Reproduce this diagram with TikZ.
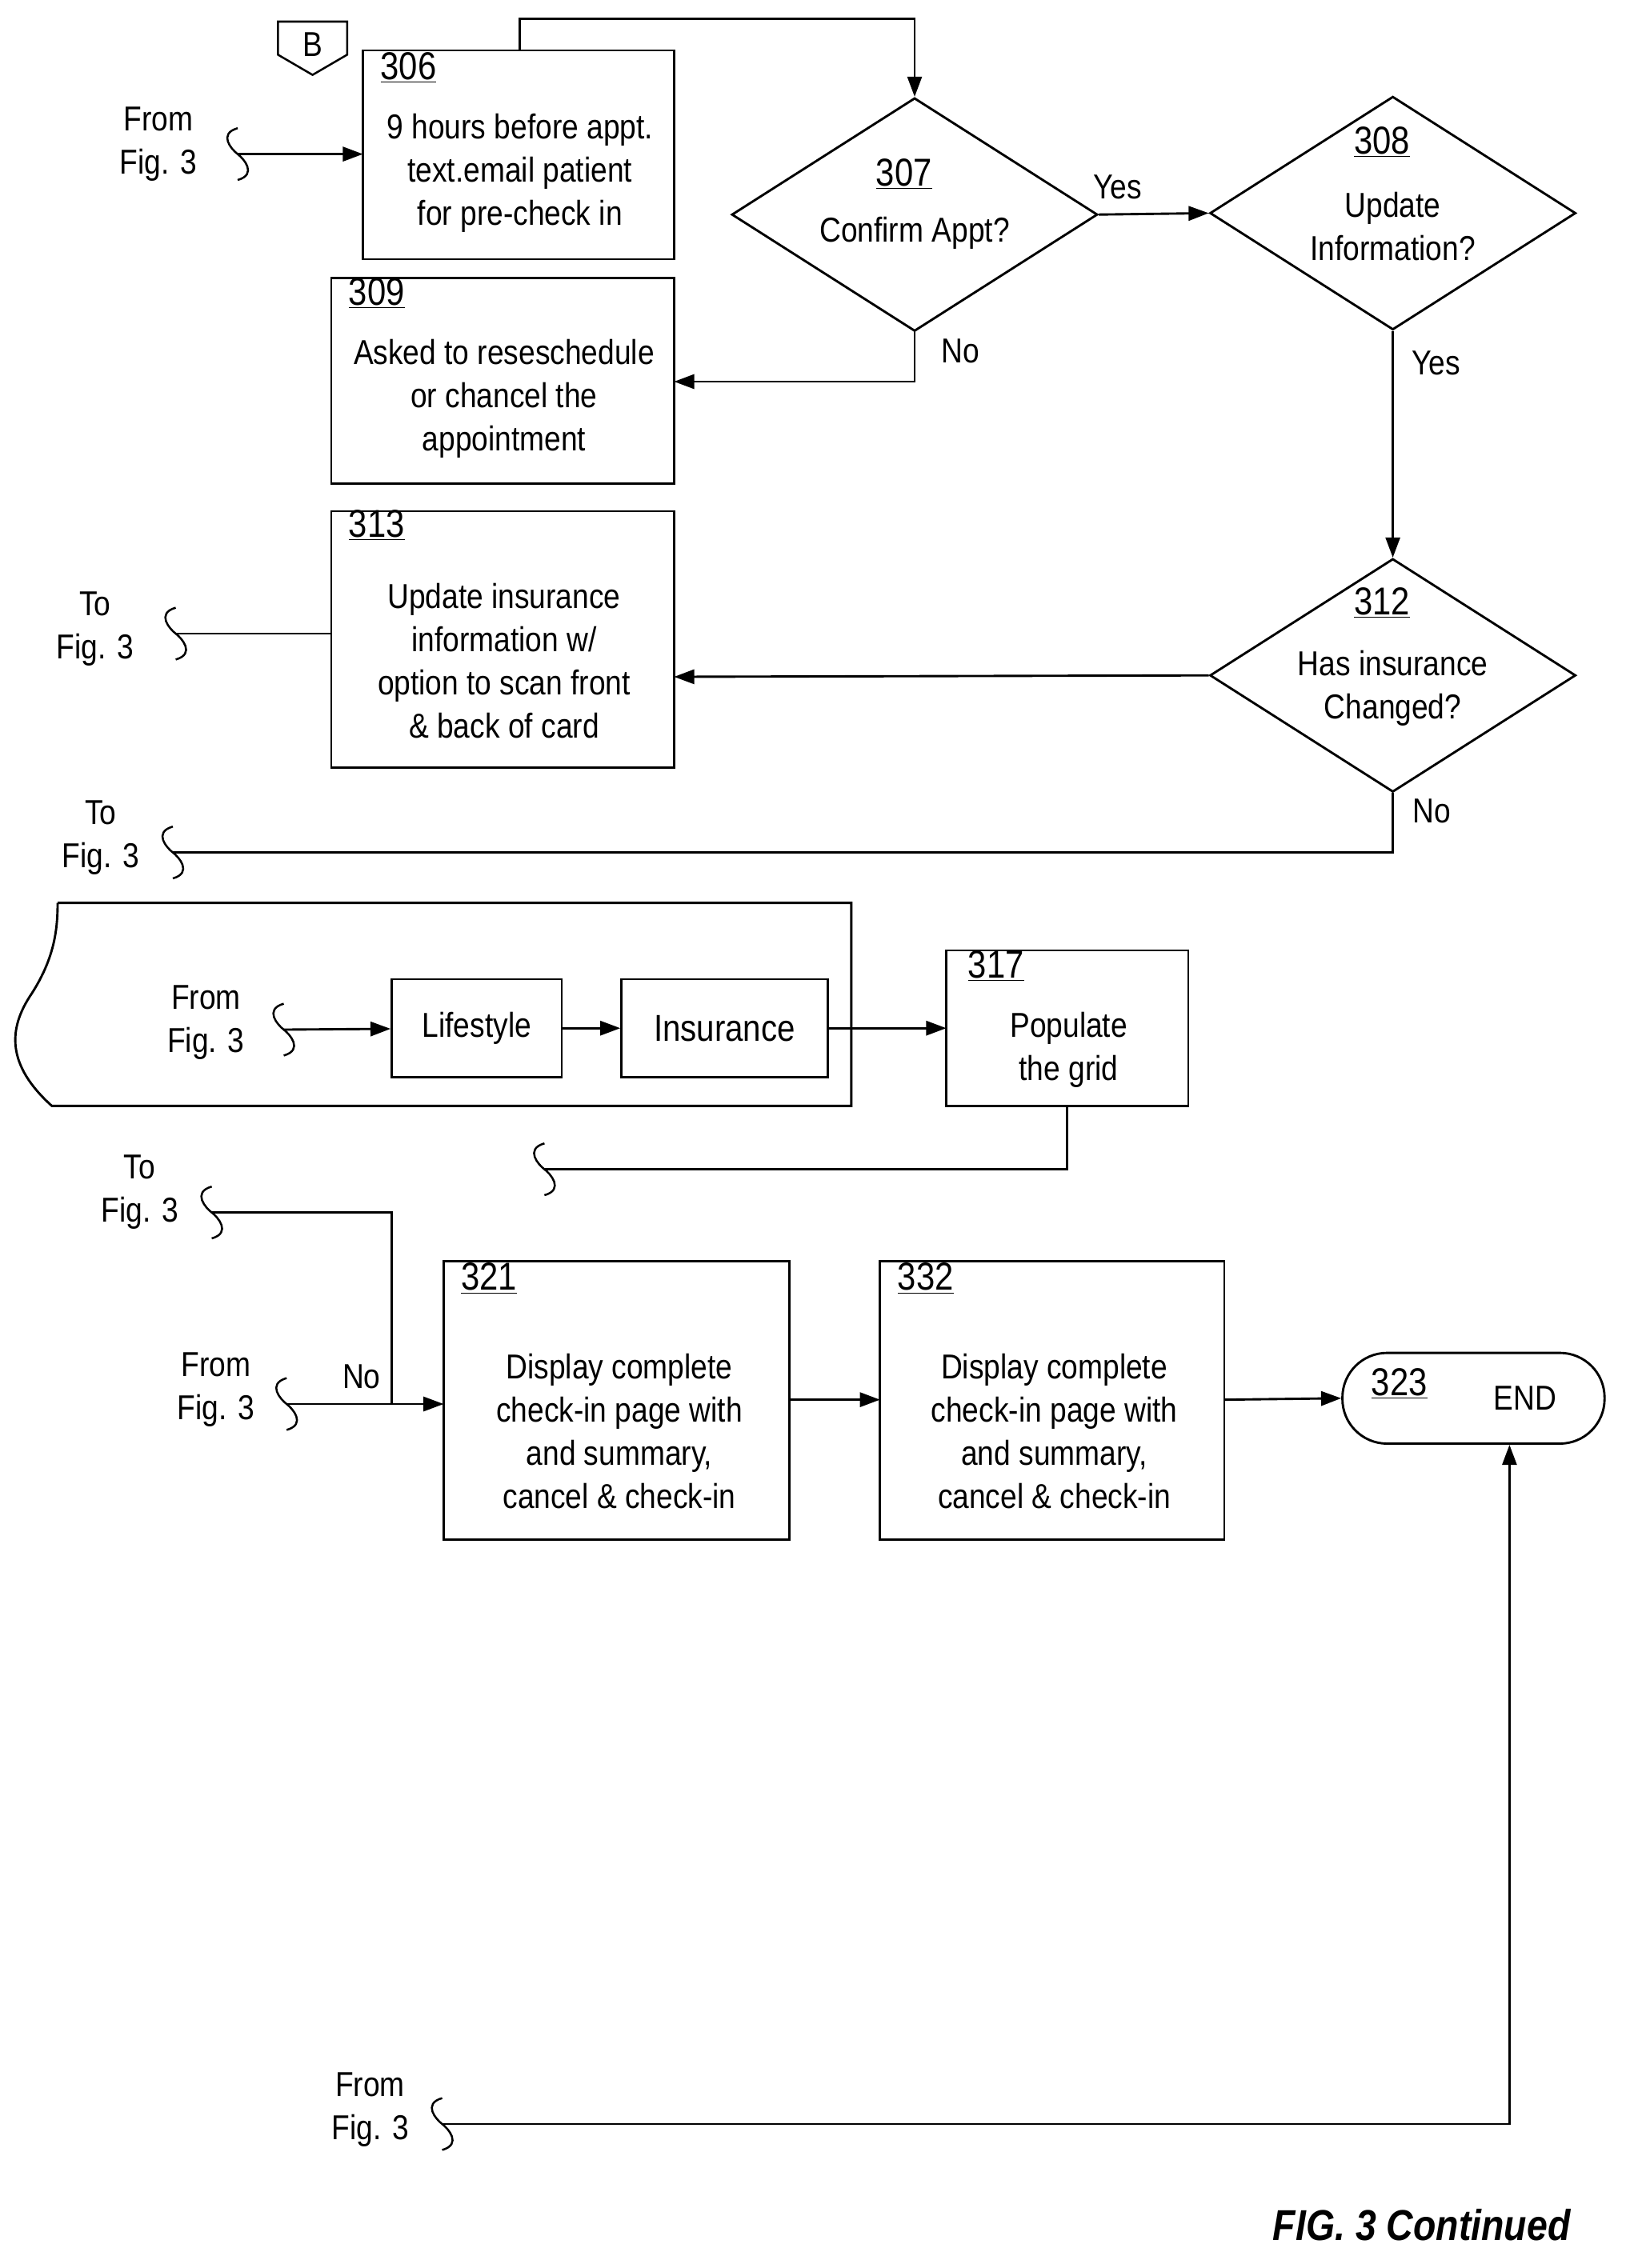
\documentclass[tikz,border=0pt]{standalone}
\usepackage{fontspec}
\setmainfont{Liberation Sans}[FakeStretch=0.86]
\usetikzlibrary{shapes.geometric,arrows.meta}
\begin{document}
\begin{tikzpicture}[x=1pt,y=-1pt,
  every node/.style={font=\fontsize{24}{29}\selectfont, inner sep=0pt},
  box/.style={draw, line width=1.6pt, minimum width=#1},
  dia/.style={draw, line width=1.6pt, diamond, aspect=1.6},
  line/.style={line width=1.6pt},
  arr/.style={line width=1.6pt,-{Triangle[length=14pt,width=10pt]}},
  lab/.style={align=center, font=\fontsize{24}{30}\selectfont},
  num/.style={anchor=north west, font=\fontsize{27}{30}\selectfont}]
\useasboundingbox (0,0) rectangle (1134,1575);
\def\sq#1#2{\draw[line width=1.4pt] (#1,#2-18) .. controls (#1-14,#2-14) and (#1-4,#2-3) .. (#1,#2) .. controls (#1+4,#2+3) and (#1+14,#2+14) .. (#1,#2+18);}
% B marker
\draw[line width=1.4pt] (193,15) -- (241,15) -- (241,38) -- (217,52) -- (193,38) -- cycle;
\node (B) at (217,31) {B};
% 306
\draw[line width=1.6pt] (252,35) rectangle (468,180);
\node[num] (n306) at (264,36) {\underline{306}};
\node[lab] (t306) at (361,120) {9 hours before appt.\\text.email patient\\for pre-check in};
\coordinate (b306w) at (252,107); \coordinate (b306n) at (361,35);
\node[lab] (f1) at (110,100) {From\\Fig. 3};
\sq{165}{107}\coordinate (s1) at (165,107);
\draw[arr] (s1) -- (b306w);
% 307
\node[dia, minimum width=254pt, minimum height=162pt] (d307) at (635,149) {};
\node[num] at (608,110) {\underline{307}};
\node (t307) at (635,162) {Confirm Appt?};
\draw[arr] (b306n) |- (500,13) -| (d307.north);
% 308
\node[dia, minimum width=254pt, minimum height=162pt] (d308) at (967,148) {};
\node[num] at (940,88) {\underline{308}};
\node[lab] at (967,157) {Update\\Information?};
\draw[arr] (d307.east) -- (d308.west);
\node at (776,130) {Yes};
% 309
\draw[line width=1.6pt] (230,193) rectangle (468,336);
\coordinate (b309e) at (468,265);
\node[num] at (242,193) {\underline{309}};
\node[lab] at (350,277) {Asked to reseschedule\\or chancel the\\appointment};
\draw[arr] (d307.south) |- (b309e);
\node at (667,244) {No};
% 312
\node[dia, minimum width=254pt, minimum height=162pt] (d312) at (967,469) {};
\node[num] at (940,408) {\underline{312}};
\node[lab] at (967,478) {Has insurance\\Changed?};
\draw[arr] (d308.south) -- (d312.north);
\node at (997,252) {Yes};
% 313
\draw[line width=1.6pt] (230,355) rectangle (468,533);
\coordinate (b313e) at (468,470); \coordinate (b313w) at (230,440);
\node[num] at (242,354) {\underline{313}};
\node[lab] at (350,459) {Update insurance\\information w/\\option to scan front\\\& back of card};
\draw[arr] (d312.west) -- (b313e);
\sq{122}{440}\coordinate (s2) at (122,440);
\draw[line] (b313w) -- (s2);
\node[lab] at (66,437) {To\\Fig. 3};
% 312 No
\sq{120}{592}\coordinate (s3) at (120,592);
\draw[line] (d312.south) |- (s3);
\node at (994,563) {No};
\node[lab] at (70,582) {To\\Fig. 3};
% wavy box
\draw[line width=1.6pt] (40,627) -- (591,627) -- (591,768) -- (36,768) .. controls (5,740) and (5,715) .. (22,690) .. controls (38,665) and (40,645) .. (40,627);
\node[lab] at (143,710) {From\\Fig. 3};
\sq{197}{715}\coordinate (s4) at (197,715);
\node[draw, line width=1.6pt, minimum width=118pt, minimum height=68pt] (life) at (331,714) {Lifestyle};
\node[draw, line width=1.6pt, minimum width=143pt, minimum height=68pt, font=\fontsize{26}{30}\selectfont] (ins) at (503,714) {Insurance};
\draw[arr] (s4) -- (life);
\draw[arr] (life) -- (ins);
% 317
\draw[line width=1.6pt] (657,660) rectangle (825,768);
\coordinate (b317w) at (657,714); \coordinate (b317s) at (741,768);
\node[num] at (672,660) {\underline{317}};
\node[lab] at (742,729) {Populate\\the grid};
\draw[arr] (ins) -- (b317w);
\sq{378}{812}\coordinate (s5) at (378,812);
\draw[line] (b317s) |- (s5);
% To Fig 3 / No
\node[lab] at (97,828) {To\\Fig. 3};
\sq{147}{842}\coordinate (s6) at (147,842);
\coordinate (j) at (272,975);
\draw[line] (s6) -| (j);
\node[lab] at (150,965) {From\\Fig. 3};
\sq{199}{975}\coordinate (s7) at (199,975);
\node at (251,956) {No};
% 321
\draw[line width=1.6pt] (308,876) rectangle (548,1069);
\coordinate (b321w) at (308,975); \coordinate (b321e) at (548,972);
\node[num] at (320,877) {\underline{321}};
\node[lab] at (430,994) {Display complete\\check-in page with\\and summary,\\cancel \& check-in};
\draw[arr] (s7) -- (b321w);
% 332
\draw[line width=1.6pt] (611,876) rectangle (850,1069);
\coordinate (b332w) at (611,972); \coordinate (b332e) at (850,972);
\node[num] at (623,877) {\underline{332}};
\node[lab] at (732,994) {Display complete\\check-in page with\\and summary,\\cancel \& check-in};
\draw[arr] (b321e) -- (b332w);
% 323
\node[draw, line width=1.6pt, rounded corners=31pt, minimum width=182pt, minimum height=63pt] (end) at (1023,971) {};
\node[num] at (952,950) {\underline{323}};
\node at (1059,971) {END};
\draw[arr] (b332e) -- (end.west);
\node[lab] at (257,1465) {From\\Fig. 3};
\sq{307}{1475}\coordinate (s8) at (307,1475);
\draw[arr] (s8) -| (end.south -| 1048,0);
\node[font=\fontsize{30}{34}\selectfont\bfseries\itshape] at (987,1545) {FIG. 3 Continued};
\end{tikzpicture}
\end{document}
